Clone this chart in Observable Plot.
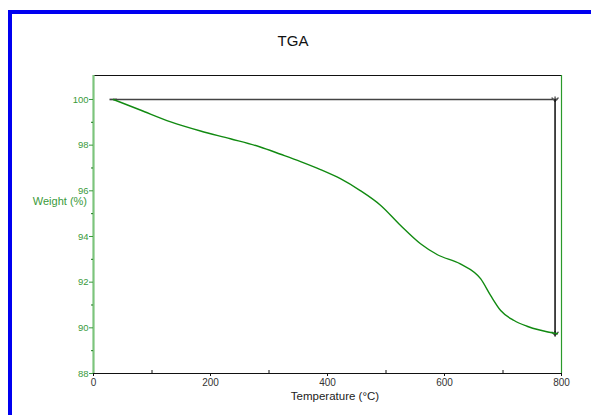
<!DOCTYPE html>
<html><head><meta charset="utf-8">
<script src="https://cdn.jsdelivr.net/npm/d3@7"></script>
<script src="https://cdn.jsdelivr.net/npm/@observablehq/plot@0.6"></script>
<style>
html,body{margin:0;padding:0;background:#fff;overflow:hidden;}
#wrap{position:relative;width:591px;height:415px;font-family:"Liberation Sans",Arial,sans-serif;}
#frame{position:absolute;left:8px;top:10px;width:700px;height:600px;border-top:4px solid #0000f0;border-left:4px solid #0000f0;box-sizing:border-box;pointer-events:none;}
#chart{position:absolute;left:0;top:0;}
.lbl{position:absolute;white-space:nowrap;line-height:1;}
</style></head>
<body>
<div id="wrap">
  <div id="chart"></div>
  <div id="frame"></div>
  <div class="lbl" id="title" style="left:0;width:586px;text-align:center;top:33px;font-size:15px;color:#111;">TGA</div>
  <div class="lbl" id="ylab" style="right:504px;top:196px;font-size:11px;color:#3a9a3a;">Weight (%)</div>
  <div class="lbl" id="xlab" style="left:0;width:670px;text-align:center;top:391px;font-size:11.5px;color:#222;">Temperature (°C)</div>
</div>
<script>
// TGA curve (temperature °C, weight %)
const temps   = [34, 80, 132, 183, 234, 285, 320, 354, 388, 422, 456, 491, 525, 559, 588, 627, 662, 679, 696, 719, 741, 793];
const weights = [100, 99.54, 99.02, 98.62, 98.28, 97.92, 97.6, 97.28, 96.93, 96.53, 96.01, 95.36, 94.48, 93.68, 93.2, 92.8, 92.14, 91.41, 90.76, 90.32, 90.07, 89.74];
// step measurement: start level and end level, marker temperature
const stepLevels = [100, 89.74];
const stepTemps = [34, 793];
const stepMarkerTemp = [789];
// axes
const xDomain = [0, 800];
const yDomain = [88, 101.05];
const xTicks = [0, 200, 400, 600, 800];
const xMinorTicks = [100, 300, 500, 700];
const yTicks = [88, 90, 92, 94, 96, 98, 100];
const yMinorTicks = [89, 91, 93, 95, 97, 99];

const curve = temps.map((t, i) => ({t, w: weights[i]}));
const green = "#3a9a3a";

const chart = Plot.plot({
  width: 591, height: 415,
  marginTop: 75, marginBottom: 42, marginLeft: 93, marginRight: 30,
  style: {fontFamily: "'Liberation Sans', Arial, sans-serif", background: "transparent"},
  x: {domain: xDomain},
  y: {domain: yDomain},
  marks: [
    // frame
    Plot.ruleY([yDomain[1]], {stroke: "#111", strokeWidth: 1}),
    Plot.ruleY([yDomain[0]], {stroke: "#111", strokeWidth: 1.2}),
    Plot.ruleX([xDomain[1]], {stroke: "#2a9a2a", strokeWidth: 1.2}),
    Plot.ruleX([xDomain[0]], {stroke: "#7cc47c", strokeWidth: 2.2}),
    // axes
    Plot.axisX({ticks: xTicks, tickSize: 3, tickPadding: 2, label: null, fontSize: 10, color: "#333", stroke: "#111"}),
    Plot.axisX({ticks: xMinorTicks, tickSize: -3, tickFormat: () => "", label: null, stroke: "#111"}),
    Plot.axisY({ticks: yTicks, tickSize: 4, tickPadding: 1, label: null, fontSize: 9.5, color: green, stroke: green}),
    Plot.axisY({ticks: yMinorTicks, tickSize: 2, tickFormat: () => "", label: null, stroke: "#1a7a1a"}),
    // step measurement
    Plot.link([0], {x1: () => stepTemps[0], x2: () => stepTemps[1], y1: () => stepLevels[0], y2: () => stepLevels[0], stroke: "#444", strokeWidth: 1.3, markerStart: "tick-x"}),
    Plot.link([0], {x1: () => stepMarkerTemp[0], x2: () => stepMarkerTemp[0], y1: () => stepLevels[0], y2: () => stepLevels[1], stroke: "#555", strokeWidth: 1.5, markerStart: "arrow", markerEnd: "arrow"}),
    Plot.link([0], {x1: () => stepMarkerTemp[0], x2: () => stepMarkerTemp[0], y1: () => stepLevels[0], y2: () => stepLevels[1], stroke: "#111", strokeWidth: 1, markerStart: "tick-y", markerEnd: "tick-y"}),
    // curve
    Plot.line(curve, {x: "t", y: "w", stroke: "#118a11", strokeWidth: 1.4, curve: "monotone-x"})
  ]
});
document.getElementById("chart").appendChild(chart);
</script>
</body></html>
